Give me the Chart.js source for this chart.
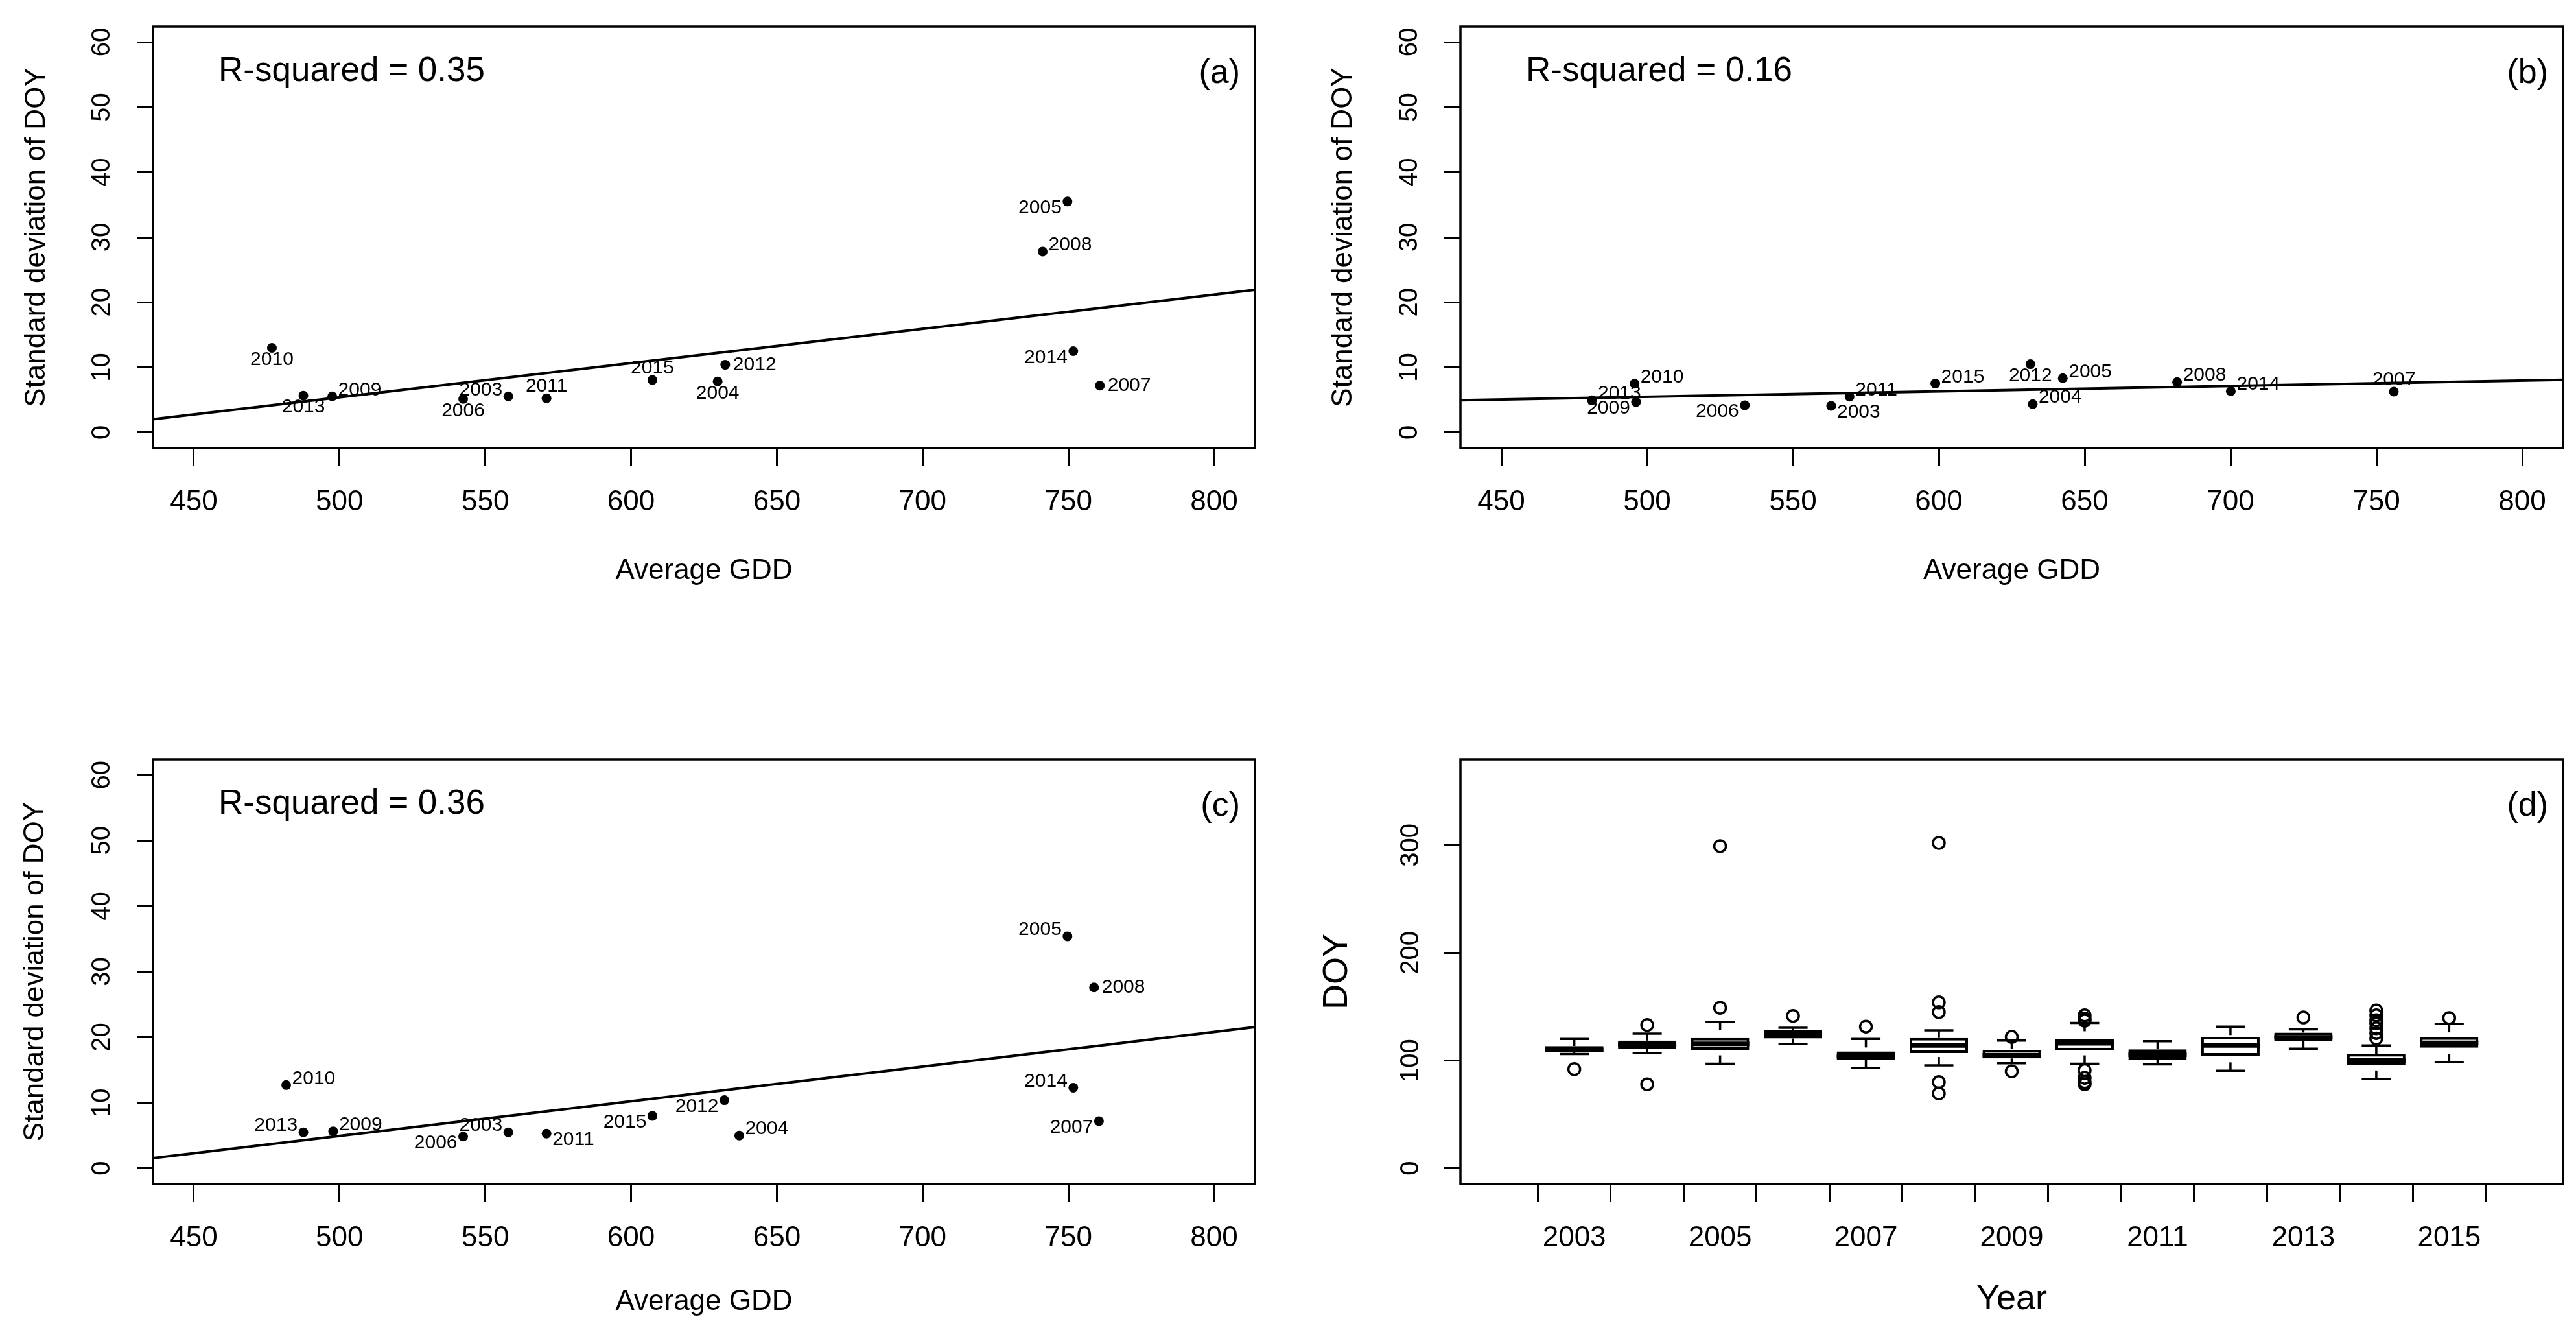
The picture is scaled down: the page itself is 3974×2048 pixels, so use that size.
<!DOCTYPE html>
<html>
<head>
<meta charset="utf-8">
<title>GDD vs DOY</title>
<script src="https://cdn.jsdelivr.net/npm/chart.js@4.4.1/dist/chart.umd.min.js"></script>
<style>
  html, body { margin: 0; padding: 0; background: #fff; }
  body { width: 3974px; height: 2048px; position: relative; overflow: hidden; }
  .panel { position: absolute; }
  #wrapA { left: 0; top: 0; width: 1990px; height: 960px; }
  #wrapB { left: 1990px; top: 0; width: 1984px; height: 960px; }
  #wrapC { left: 0; top: 1000px; width: 1990px; height: 1048px; }
  #wrapD { left: 1990px; top: 1000px; width: 1984px; height: 1048px; }
</style>
</head>
<body>
<div class="panel" id="wrapA"><canvas id="chartA"></canvas></div>
<div class="panel" id="wrapB"><canvas id="chartB"></canvas></div>
<div class="panel" id="wrapC"><canvas id="chartC"></canvas></div>
<div class="panel" id="wrapD"><canvas id="chartD"></canvas></div>
<script>
// ---- data ----
const years = ['2003', '2004', '2005', '2006', '2007', '2008', '2009', '2010', '2011', '2012', '2013', '2014', '2015'];

const gddTicks = [450, 500, 550, 600, 650, 700, 750, 800];
const sdTicks = [0, 10, 20, 30, 40, 50, 60];
const doyTicks = [0, 100, 200, 300];
const yearTickLabels = ['2003', '', '2005', '', '2007', '', '2009', '', '2011', '', '2013', '', '2015'];

// panel (a)
const gddA = [557.9, 629.7, 749.7, 542.4, 760.8, 741.2, 497.5, 476.8, 571.0, 632.3, 487.6, 751.7, 607.3];
const sdA = [5.55, 7.84, 35.5, 5.15, 7.2, 27.8, 5.55, 13.0, 5.26, 10.4, 5.66, 12.5, 8.07];
const rsqA = '0.35';

// panel (b)
const gddB = [563.1, 632.2, 642.5, 533.5, 756.0, 681.7, 496.2, 495.7, 569.4, 631.4, 481.1, 700.1, 598.8];
const sdB = [4.09, 4.36, 8.34, 4.19, 6.28, 7.75, 4.69, 7.5, 5.5, 10.5, 4.96, 6.35, 7.51];
const rsqB = '0.16';

// panel (c)
const gddC = [557.9, 637.1, 749.7, 542.4, 760.5, 758.8, 497.8, 481.7, 571.0, 632.0, 487.6, 751.7, 607.3];
const sdC = [5.5, 5.0, 35.4, 4.85, 7.2, 27.6, 5.65, 12.7, 5.3, 10.4, 5.5, 12.3, 8.0];
const rsqC = '0.36';

// panel (d), box plot stats per year
const doyLow = [106, 107, 97, 115.5, 93, 95.5, 97.5, 97, 96.5, 90.5, 111, 83, 98.5];
const doyQ1 = [107.5, 111, 110, 120.5, 100.5, 107, 102, 109.5, 101, 104.5, 118, 96, 112];
const doyMedian = [110, 115, 115.5, 124.5, 104, 114, 105, 116, 105.5, 114, 121.5, 100, 116.5];
const doyQ3 = [113.5, 118.5, 121, 128, 108.5, 121, 110, 120, 110.5, 122, 126, 106, 121.5];
const doyHigh = [120, 125, 136, 130.5, 120, 128, 118.5, 135, 118, 131.5, 129, 114, 134];
const doyOutliers = [
  [92], [133, 78], [149, 299], [141.5], [131.5],
  [302, 154, 145, 80, 69.5], [122, 90], [142, 139, 137, 91, 84, 80, 78],
  [], [], [140], [146.5, 142, 137.5, 134.5, 130, 125.5, 120.5], [139.5]
];

// where each year label sits next to its point
const labelPosA = ['nw', 's', 'sw', 's', 'e', 'ne', 'ne', 's', 'n', 'e', 's', 'sw', 'n'];
const labelPosB = ['se', 'ne', 'ne', 'sw', 'n', 'ne', 'sw', 'ne', 'ne', 's', 'ne', 'ne', 'ne'];
const labelPosC = ['nw', 'ne', 'nw', 'sw', 'sw', 'e', 'ne', 'ne', 'se', 'sw', 'nw', 'nw', 'sw'];

// ---- setup ----
const FONT = "'Liberation Sans', Arial, Helvetica, sans-serif";
Chart.defaults.font.family = FONT;
Chart.defaults.color = '#000';

// R style axis ranges (4% extension)
const GDD_MIN = 436, GDD_MAX = 814;
const SD_MIN = -2.4, SD_MAX = 62.4;
const DOY_MIN = -14.6, DOY_MAX = 379.6;
const YR_MIN = 0.02, YR_MAX = 13.98;

const LABEL_OFFSETS = {
  e: { align: 'left', dx: 12, dy: 0 },
  w: { align: 'right', dx: -12, dy: 0 },
  n: { align: 'center', dx: 0, dy: -18 },
  s: { align: 'center', dx: 0, dy: 18 },
  ne: { align: 'left', dx: 9, dy: -10 },
  nw: { align: 'right', dx: -9, dy: -10 },
  se: { align: 'left', dx: 9, dy: 10 },
  sw: { align: 'right', dx: -9, dy: 10 }
};

function fitLine(xs, ys) {
  const n = xs.length;
  const mx = xs.reduce((s, v) => s + v, 0) / n;
  const my = ys.reduce((s, v) => s + v, 0) / n;
  let sxy = 0, sxx = 0;
  xs.forEach((x, i) => {
    sxy += (x - mx) * (ys[i] - my);
    sxx += (x - mx) * (x - mx);
  });
  const slope = sxy / sxx;
  return { slope: slope, intercept: my - slope * mx };
}

function xAxis(min, max, tickValues, tickLabels, title, titleSize, height, titlePad) {
  const ticks = { autoSkip: false, maxRotation: 0, minRotation: 0, padding: 30, color: '#000', font: { size: 44 } };
  if (tickLabels) ticks.callback = (v, i) => tickLabels[i];
  return {
    type: 'linear', min: min, max: max,
    afterBuildTicks: s => { s.ticks = tickValues.map(v => ({ value: v })); },
    afterFit: s => { s.height = height; },
    grid: { display: true, drawOnChartArea: false, drawTicks: true, tickLength: 27, lineWidth: 3, color: '#000' },
    border: { display: false },
    ticks: ticks,
    title: { display: true, text: title, color: '#000', font: { size: titleSize }, padding: { top: 0, bottom: titlePad } }
  };
}

// y tick labels are drawn rotated by the yTickLabels plugin (R draws them parallel to the axis)
function yAxis(min, max, tickValues, title, titleSize, width, titlePad) {
  return {
    type: 'linear', min: min, max: max,
    afterBuildTicks: s => { s.ticks = tickValues.map(v => ({ value: v })); },
    afterFit: s => { s.width = width; },
    grid: { display: true, drawOnChartArea: false, drawTicks: true, tickLength: 25, lineWidth: 3, color: '#000' },
    border: { display: false },
    ticks: { display: false, autoSkip: false },
    title: { display: true, text: title, color: '#000', font: { size: titleSize }, padding: { top: titlePad, bottom: 0 } }
  };
}

const framePlugin = {
  id: 'frame',
  afterDraw(chart) {
    const { ctx, chartArea: a } = chart;
    ctx.save();
    ctx.strokeStyle = '#000';
    ctx.lineWidth = 3.5;
    ctx.strokeRect(a.left, a.top, a.right - a.left, a.bottom - a.top);
    ctx.restore();
  }
};

function yTickLabelPlugin(gap) {
  return {
    id: 'yTickLabels',
    afterDraw(chart) {
      const { ctx, chartArea: a, scales: { y } } = chart;
      ctx.save();
      ctx.fillStyle = '#000';
      ctx.font = '40px ' + FONT;
      ctx.textAlign = 'center';
      ctx.textBaseline = 'middle';
      y.ticks.forEach(t => {
        ctx.save();
        ctx.translate(a.left - gap, y.getPixelForValue(t.value));
        ctx.rotate(-Math.PI / 2);
        ctx.fillText(String(t.value), 0, 0);
        ctx.restore();
      });
      ctx.restore();
    }
  };
}

function pointLabelPlugin(labels, pos) {
  return {
    id: 'pointLabels',
    afterDatasetsDraw(chart) {
      const ctx = chart.ctx;
      const meta = chart.getDatasetMeta(0);
      ctx.save();
      ctx.font = '30px ' + FONT;
      ctx.fillStyle = '#000';
      ctx.textBaseline = 'middle';
      meta.data.forEach((pt, i) => {
        const o = LABEL_OFFSETS[pos[i]];
        ctx.textAlign = o.align;
        ctx.fillText(labels[i], pt.x + o.dx, pt.y + o.dy);
      });
      ctx.restore();
    }
  };
}

function panelTextPlugin(rsq, tag) {
  return {
    id: 'panelText',
    afterDraw(chart) {
      const { ctx, chartArea: a } = chart;
      ctx.save();
      ctx.fillStyle = '#000';
      ctx.textBaseline = 'alphabetic';
      if (rsq) {
        ctx.font = '53px ' + FONT;
        ctx.textAlign = 'left';
        ctx.fillText('R-squared = ' + rsq, a.left + 101, a.top + 84);
      }
      ctx.font = '52px ' + FONT;
      ctx.textAlign = 'right';
      ctx.fillText(tag, a.right - 23, a.top + 87);
      ctx.restore();
    }
  };
}

function gddChart(id, gdd, sd, pos, rsq, tag, geo) {
  const fit = fitLine(gdd, sd);
  return new Chart(document.getElementById(id), {
    type: 'scatter',
    data: {
      datasets: [
        {
          data: gdd.map((x, i) => ({ x: x, y: sd[i] })),
          backgroundColor: '#000', borderColor: '#000', pointRadius: 7.5, borderWidth: 0,
          order: 0
        },
        {
          type: 'line',
          data: [GDD_MIN, GDD_MAX].map(x => ({ x: x, y: fit.intercept + fit.slope * x })),
          borderColor: '#000', borderWidth: 4, pointRadius: 0, fill: false,
          order: 1
        }
      ]
    },
    options: {
      responsive: true, maintainAspectRatio: false, animation: false,
      events: [],
      layout: { padding: { top: geo.top, right: geo.right, left: 0, bottom: 0 } },
      plugins: { legend: { display: false }, tooltip: { enabled: false } },
      scales: {
        x: xAxis(GDD_MIN, GDD_MAX, gddTicks, null, 'Average GDD', 44, geo.xHeight, geo.xTitlePad),
        y: yAxis(SD_MIN, SD_MAX, sdTicks, 'Standard deviation of DOY', 44, geo.yWidth, geo.yTitlePad)
      }
    },
    plugins: [framePlugin, yTickLabelPlugin(78), pointLabelPlugin(years, pos), panelTextPlugin(rsq, tag)]
  });
}

gddChart('chartA', gddA, sdA, labelPosA, rsqA, '(a)',
  { top: 41, right: 54, yWidth: 236, xHeight: 269, yTitlePad: 30, xTitlePad: 53 });
gddChart('chartB', gddB, sdB, labelPosB, rsqB, '(b)',
  { top: 41, right: 20, yWidth: 263, xHeight: 269, yTitlePad: 56, xTitlePad: 53 });
gddChart('chartC', gddC, sdC, labelPosC, rsqC, '(c)',
  { top: 171, right: 54, yWidth: 236, xHeight: 222, yTitlePad: 28, xTitlePad: 14 });

// ---- panel (d): box plot ----
const boxWhiskerPlugin = {
  id: 'boxWhiskers',
  afterDatasetsDraw(chart) {
    const { ctx, scales: { x, y } } = chart;
    const seg = (x1, y1, x2, y2) => { ctx.beginPath(); ctx.moveTo(x1, y1); ctx.lineTo(x2, y2); ctx.stroke(); };
    ctx.save();
    ctx.strokeStyle = '#000';
    years.forEach((yr, i) => {
      const cx = x.getPixelForValue(i + 1);
      const half = x.getPixelForValue(i + 1.4) - cx;
      const yLo = y.getPixelForValue(doyLow[i]);
      const yHi = y.getPixelForValue(doyHigh[i]);
      ctx.lineWidth = 3.5;
      ctx.setLineDash([13, 13]);
      seg(cx, yHi, cx, y.getPixelForValue(doyQ3[i]));
      seg(cx, yLo, cx, y.getPixelForValue(doyQ1[i]));
      ctx.setLineDash([]);
      seg(cx - half / 2, yHi, cx + half / 2, yHi);
      seg(cx - half / 2, yLo, cx + half / 2, yLo);
      ctx.lineWidth = 7;
      const yMed = y.getPixelForValue(doyMedian[i]);
      seg(cx - half, yMed, cx + half, yMed);
    });
    ctx.restore();
  }
};

const outlierPoints = [];
doyOutliers.forEach((list, i) => list.forEach(v => outlierPoints.push({ x: i + 1, y: v })));

new Chart(document.getElementById('chartD'), {
  type: 'scatter',
  data: {
    datasets: [
      {
        type: 'bar',
        data: years.map((yr, i) => ({ x: i + 1, y: [doyQ1[i], doyQ3[i]] })),
        backgroundColor: '#fff', borderColor: '#000', borderWidth: 4, borderSkipped: false,
        barPercentage: 0.8, categoryPercentage: 1.0,
        order: 1
      },
      {
        data: outlierPoints,
        pointStyle: 'circle', pointRadius: 9, borderWidth: 3.5,
        borderColor: '#000', backgroundColor: 'rgba(0,0,0,0)',
        order: 0
      }
    ]
  },
  options: {
    responsive: true, maintainAspectRatio: false, animation: false,
    events: [],
    layout: { padding: { top: 171, right: 20, left: 0, bottom: 0 } },
    plugins: { legend: { display: false }, tooltip: { enabled: false } },
    scales: {
      x: xAxis(YR_MIN, YR_MAX, years.map((yr, i) => i + 1), yearTickLabels, 'Year', 54, 222, 11),
      y: yAxis(DOY_MIN, DOY_MAX, doyTicks, 'DOY', 54, 263, 41)
    }
  },
  plugins: [framePlugin, yTickLabelPlugin(76), boxWhiskerPlugin, panelTextPlugin(null, '(d)')]
});
</script>
</body>
</html>
